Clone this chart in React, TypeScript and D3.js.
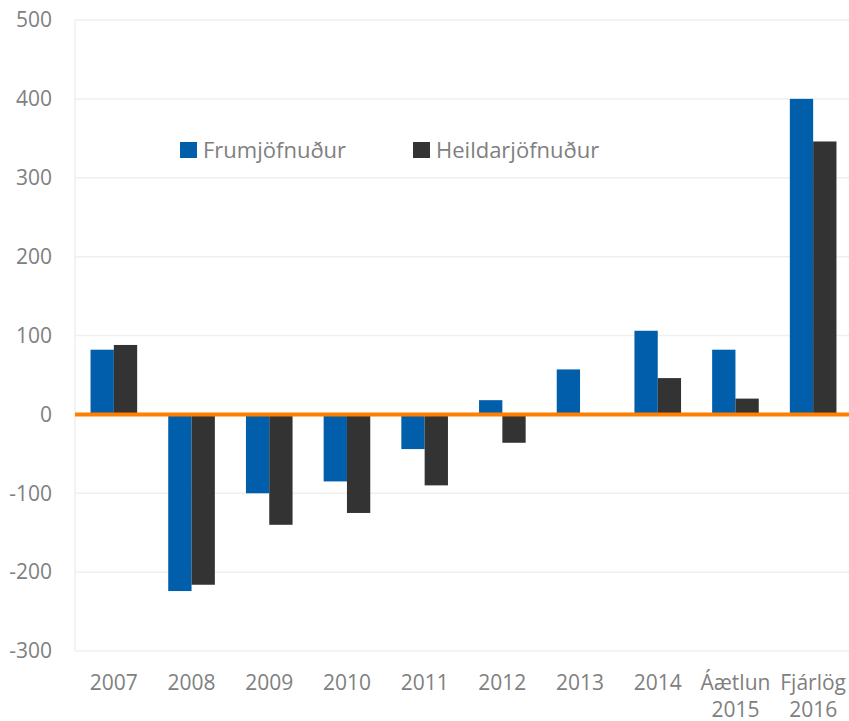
import React from "react";
import * as d3 from "d3";

const categories: string[][] = [
  ["2007"], ["2008"], ["2009"], ["2010"], ["2011"], ["2012"], ["2013"], ["2014"],
  ["Áætlun", "2015"], ["Fjárlög", "2016"],
];
const frumjofnudur = [82, -224, -100, -85, -44, 18, 57, 106, 82, 400];
const heildarjofnudur = [88, -216, -140, -125, -90, -36, 0, 46, 20, 346];
const yTicks = [-300, -200, -100, 0, 100, 200, 300, 400, 500];
const seriesNames = ["Frumjöfnuður", "Heildarjöfnuður"];

const W = 849, H = 721;
const left = 75, right = 852, top = 20, bottom = 651;
const font = "'Open Sans', Lato, sans-serif";
const textColor = "#808080";
const colors = ["#005eaa", "#333333"];

export default function App() {
  const keys = categories.map((c) => c.join(" "));
  const x = d3.scaleBand<string>().domain(keys).range([left, right]).paddingInner(0.4).paddingOuter(0.2);
  const x1 = d3.scaleBand<number>().domain([0, 1]).range([0, x.bandwidth()]);
  const y = d3.scaleLinear().domain([-300, 500]).range([bottom, top]);
  const series = [frumjofnudur, heildarjofnudur];

  return (
    <svg width={W} height={H} style={{ position: "absolute", left: 0, top: 0, background: "#fff" }}>
      {yTicks.map((t) => (
        <g key={t}>
          <line x1={left} x2={W} y1={y(t)} y2={y(t)} stroke="#efefef" strokeWidth={1.5} />
          <text x={52} y={y(t)} dy="0.35em" textAnchor="end" fontFamily={font} fontSize={21} fill={textColor}>
            {t}
          </text>
        </g>
      ))}
      <line x1={left} x2={left} y1={top} y2={bottom} stroke="#efefef" strokeWidth={1.5} />
      {series.map((vals, si) =>
        vals.map((v, i) => {
          if (v === 0) return null;
          const bx = (x(keys[i]) as number) + (x1(si) as number);
          return (
            <rect
              key={`${si}-${i}`}
              x={bx}
              width={x1.bandwidth()}
              y={Math.min(y(v), y(0))}
              height={Math.abs(y(v) - y(0))}
              fill={colors[si]}
            />
          );
        })
      )}
      <line x1={left} x2={W} y1={y(0)} y2={y(0)} stroke="#ff7f00" strokeWidth={4} />
      {categories.map((c, i) => (
        <text
          key={i}
          x={(x(keys[i]) as number) + x.bandwidth() / 2}
          y={690}
          textAnchor="middle"
          fontFamily={font}
          fontSize={21}
          fill={textColor}
        >
          {c.map((line, li) => (
            <tspan key={li} x={(x(keys[i]) as number) + x.bandwidth() / 2} dy={li === 0 ? 0 : 27}>
              {line}
            </tspan>
          ))}
        </text>
      ))}
      {seriesNames.map((name, si) => {
        const lx = si === 0 ? 180 : 413;
        return (
          <g key={name}>
            <rect x={lx} y={142} width={17} height={16} fill={colors[si]} />
            <text x={lx + 23} y={150} dy="0.35em" fontFamily={font} fontSize={22} fill={textColor}>
              {name}
            </text>
          </g>
        );
      })}
    </svg>
  );
}
